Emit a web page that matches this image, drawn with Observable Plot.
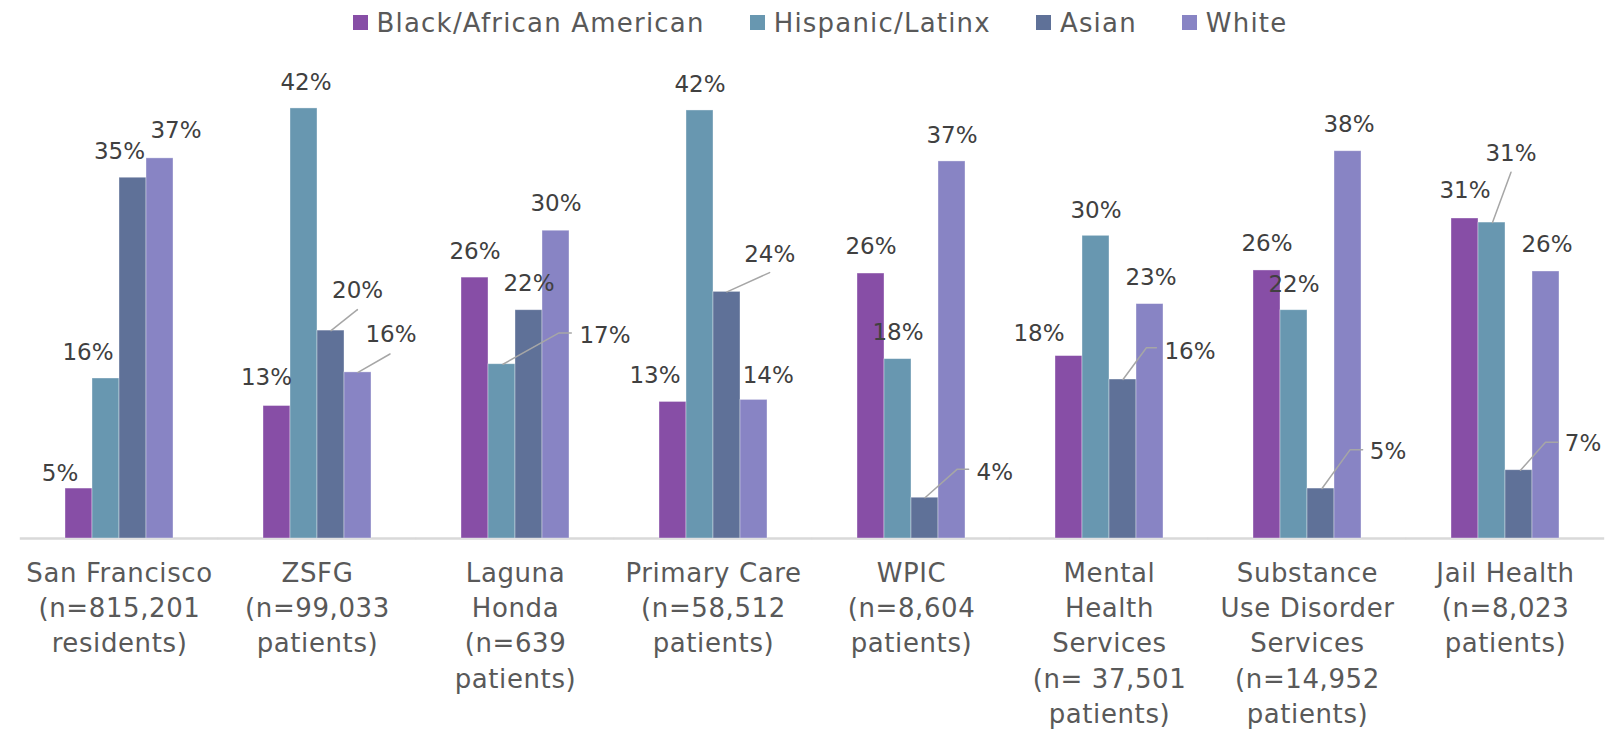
<!DOCTYPE html>
<html><head><meta charset="utf-8">
<script src="https://cdn.jsdelivr.net/npm/d3@7"></script>
<script src="https://cdn.jsdelivr.net/npm/@observablehq/plot@0.6"></script>
<style>
html,body{margin:0;padding:0;background:#fff;}
#chart{width:1621px;}
div.lg-swatches{margin:0;height:45px;min-height:45px;font-family:"DejaVu Sans",sans-serif;font-size:26px;color:#595959;letter-spacing:1.2px;justify-content:center;padding-left:64px;box-sizing:border-box;}
div.lg-swatches span.lg-swatch{margin-right:45px;}
div.lg-swatches span.lg-swatch > svg{margin-right:9px;}
g[aria-label="fx-axis tick label"] text{letter-spacing:0.6px;}
</style></head><body><div id="chart"></div>
<script>
// ---- data ----
const sites = ["San Francisco","ZSFG","Laguna Honda","Primary Care","WPIC","Mental Health Services","Substance Use Disorder Services","Jail Health"];
const siteLabels = [
  "San Francisco\n(n=815,201\nresidents)",
  "ZSFG\n(n=99,033\npatients)",
  "Laguna\nHonda\n(n=639\npatients)",
  "Primary Care\n(n=58,512\npatients)",
  "WPIC\n(n=8,604\npatients)",
  "Mental\nHealth\nServices\n(n= 37,501\npatients)",
  "Substance\nUse Disorder\nServices\n(n=14,952\npatients)",
  "Jail Health\n(n=8,023\npatients)"
];
const groups = ["Black/African American","Hispanic/Latinx","Asian","White"];
const black    = [4.9, 13.0, 25.6, 13.4, 26.0, 17.9, 26.3, 31.4];
const hispanic = [15.7, 42.2, 17.1, 42.0, 17.6, 29.7, 22.4, 31.0];
const asian    = [35.4, 20.4, 22.4, 24.2, 4.0, 15.6, 4.9, 6.7];
const white    = [37.3, 16.3, 30.2, 13.6, 37.0, 23.0, 38.0, 26.2];
const colors = ["#874EA6","#6897B0","#5F7198","#8884C4"];

// ---- label layout (pixel offsets of each data label from its bar top) ----
const labelOffsets = [
  [[-19,-15],[-18,-25.6],[-13.5,-26],[16,-28]],
  [[-10.5,-28.3],[2,-26],[26.6,-40],[33,-37.7]],
  [[0,-26],[103,-29],[0,-26.6],[0,-26.7]],
  [[-18,-26.7],[0,-26],[42.8,-37],[14.3,-24]],
  [[0,-26.7],[0,-26.6],[69.8,-25],[0,-26.3]],
  [[-30,-22.4],[0,-25.3],[67,-28.3],[1,-26]],
  [[0,-26.7],[0,-26],[67,-37],[1,-26.8]],
  [[0,-28],[19,-69.3],[64,-26.4],[1,-27]]
];
const leaders = [
  [1,2,[[0,0],[26.4,-21]]],
  [1,3,[[0,0],[32,-18.4]]],
  [2,1,[[1,0],[57,-31.3],[69.3,-31.3]]],
  [3,2,[[0,0],[42.6,-19.3]]],
  [4,2,[[0,0],[32,-28.4],[43.6,-28.4]]],
  [5,2,[[0,0],[23.4,-31.7],[33.4,-31.7]]],
  [6,2,[[1,0],[29,-38.7],[41.6,-38.7]]],
  [7,1,[[0.5,0],[19,-50.3]]],
  [7,2,[[1.5,0],[26.5,-28],[39,-28]]]
];

const series = [black, hispanic, asian, white];
const rows = sites.flatMap((s, i) => groups.map((g, j) => ({site: s, group: g, value: series[j][i], i, j})));
const rowAt = (i, j) => rows[i * groups.length + j];

const shapeOf = pts => ({draw(ctx) { ctx.moveTo(pts[0][0], pts[0][1]); for (const [x, y] of pts.slice(1)) ctx.lineTo(x, y); }});

const labelMarks = rows.map(r => Plot.text([r], {
  fx: "site", x: "group", y: "value",
  text: d => Math.round(d.value) + "%",
  dx: labelOffsets[r.i][r.j][0], dy: labelOffsets[r.i][r.j][1],
  fontSize: 23, fill: "#404040", textAnchor: "middle"
}));
const leaderMarks = leaders.map(([i, j, pts]) => Plot.vector([rowAt(i, j)], {
  fx: "site", x: "group", y: "value", anchor: "start", length: 1, rotate: 0,
  shape: shapeOf(pts), stroke: "#A6A6A6", strokeWidth: 1.5, fill: "none"
}));

const chart = Plot.plot({
  width: 1621, height: 692,
  marginTop: 34.4, marginBottom: 199, marginLeft: 17, marginRight: 15,
  style: {fontFamily: "DejaVu Sans, sans-serif", background: "#fff"},
  fx: {domain: sites, paddingInner: 0.445, paddingOuter: 0.2225, label: null},
  x: {domain: groups, padding: 0, axis: null},
  y: {domain: [0, 45], axis: null},
  color: {domain: groups, range: colors},
  marks: [
    Plot.ruleY([0], {stroke: "#D9D9D9", strokeWidth: 2.5, insetLeft: -44.2, insetRight: -44.2}),
    Plot.barY(rows, {fx: "site", x: "group", y: "value", fill: "group", stroke: "#fff", strokeOpacity: 0.45, strokeWidth: 0.8}),
    ...leaderMarks,
    ...labelMarks,
    Plot.axisFx({anchor: "bottom", tickSize: 0, tickPadding: 18, fontSize: 26, lineHeight: 1.36,
      fill: "#595959", label: null, tickFormat: s => siteLabels[sites.indexOf(s)]})
  ]
});

const legend = Plot.legend({color: {domain: groups, range: colors}, legend: "swatches", swatchSize: 15, className: "lg"});
const root = document.getElementById("chart");
root.appendChild(legend);
root.appendChild(chart);
</script></body></html>
